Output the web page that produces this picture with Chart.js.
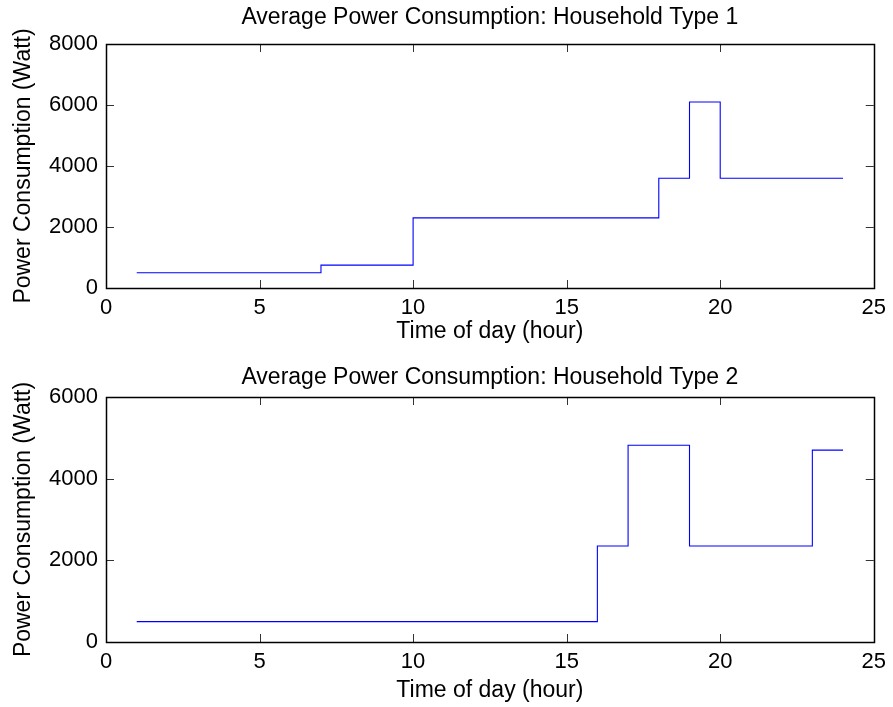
<!DOCTYPE html>
<html>
<head>
<meta charset="utf-8">
<script src="https://cdn.jsdelivr.net/npm/chart.js@4.4.1/dist/chart.umd.min.js"></script>
<style>
  html, body { margin: 0; padding: 0; background: #fff; }
  body { width: 893px; height: 707px; position: relative; overflow: hidden; }
  canvas { position: absolute; left: 0; }
</style>
</head>
<body>
<canvas id="c1" width="893" height="353" style="top:0px;width:893px;height:353px"></canvas>
<canvas id="c2" width="893" height="354" style="top:353px;width:893px;height:354px"></canvas>
<script>
// ---- data ----
const hours = [1,2,3,4,5,6,7,8,9,10,11,12,13,14,15,16,17,18,19,20,21,22,23,24];
const type1Watts = [500,500,500,500,500,500,750,750,750,2300,2300,2300,2300,2300,2300,2300,2300,3600,6100,3600,3600,3600,3600,3600];
const type2Watts = [500,500,500,500,500,500,500,500,500,500,500,500,500,500,500,2350,4820,4820,2350,2350,2350,2350,4700,4700];
const titles = ['Average Power Consumption: Household Type 1', 'Average Power Consumption: Household Type 2'];
const xTitle = 'Time of day (hour)';
const yTitle = 'Power Consumption (Watt)';
const xTicks = [0, 5, 10, 15, 20, 25];
const yTicks1 = [0, 2000, 4000, 6000, 8000];
const yTicks2 = [0, 2000, 4000, 6000];

const FONT = '"Liberation Sans", Arial, Helvetica, sans-serif';
Chart.defaults.color = '#000';
Chart.defaults.font.family = FONT;

// center the title over the plot area (as the reference does)
const titleCenterPlugin = {
  id: 'titleCenter',
  afterLayout(chart) {
    const tb = chart.titleBlock;
    if (tb) {
      tb.left = chart.chartArea.left;
      tb.right = chart.chartArea.right;
      tb.width = tb.right - tb.left;
    }
  }
};

// frame + inward ticks on all four sides, like a boxed axes
const boxPlugin = {
  id: 'boxTicks',
  afterDatasetsDraw(chart) {
    const {ctx, chartArea: a, scales: {x, y}} = chart;
    const L = 8;
    ctx.save();
    ctx.lineWidth = 1;
    ctx.strokeStyle = '#333';
    ctx.beginPath();
    x.ticks.forEach(t => {
      const px = Math.round(x.getPixelForValue(t.value)) + 0.5;
      ctx.moveTo(px, a.bottom); ctx.lineTo(px, a.bottom - L);
      ctx.moveTo(px, a.top); ctx.lineTo(px, a.top + L);
    });
    y.ticks.forEach(t => {
      const py = Math.round(y.getPixelForValue(t.value)) + 0.5;
      ctx.moveTo(a.left, py); ctx.lineTo(a.left + L, py);
      ctx.moveTo(a.right, py); ctx.lineTo(a.right - L, py);
    });
    ctx.stroke();
    ctx.strokeStyle = '#000';
    ctx.lineWidth = 1.5;
    ctx.strokeRect(Math.round(a.left) + 0.5, Math.round(a.top) + 0.5,
                   Math.round(a.right - a.left), Math.round(a.bottom - a.top));
    ctx.restore();
  }
};

function makeChart(id, title, values, yTicks, titleTop, xTitleBottom) {
  const yMax = yTicks[yTicks.length - 1];
  return new Chart(document.getElementById(id), {
    type: 'line',
    data: {
      datasets: [{
        data: hours.map((h, i) => ({x: h, y: values[i]})),
        borderColor: '#0000ff',
        borderWidth: 1.1,
        pointRadius: 0,
        stepped: true,
        fill: false
      }]
    },
    options: {
      responsive: false,
      animation: false,
      devicePixelRatio: 1,
      layout: { padding: { left: 0, right: 18, top: 0, bottom: 0 } },
      plugins: {
        legend: { display: false },
        tooltip: { enabled: false },
        title: {
          display: true,
          text: title,
          color: '#000',
          font: { size: 23, weight: 'normal', family: FONT },
          padding: { top: titleTop, bottom: 44 - titleTop - 27.6 }
        }
      },
      scales: {
        x: {
          type: 'linear',
          min: 0, max: 25,
          afterBuildTicks(s) { s.ticks = xTicks.map(v => ({value: v})); },
          afterFit(s) { s.height = 65; },
          grid: { display: false, drawTicks: false },
          border: { display: false },
          ticks: { font: { size: 22 }, padding: 7, color: '#000', maxRotation: 0,
                   callback: v => String(v) },
          title: { display: true, text: xTitle, font: { size: 23 }, color: '#000',
                   padding: { top: 0, bottom: xTitleBottom } }
        },
        y: {
          type: 'linear',
          min: 0, max: yMax,
          afterBuildTicks(s) { s.ticks = yTicks.map(v => ({value: v})); },
          afterFit(s) { s.width = 106; },
          grid: { display: false, drawTicks: false },
          border: { display: false },
          ticks: { font: { size: 22 }, padding: 8, color: '#000',
                   callback: v => String(v) },
          title: { display: true, text: yTitle, font: { size: 23 }, color: '#000',
                   padding: { top: 10, bottom: 0 } }
        }
      }
    },
    plugins: [titleCenterPlugin, boxPlugin]
  });
}

makeChart('c1', titles[0], type1Watts, yTicks1, 4, 8);
makeChart('c2', titles[1], type2Watts, yTicks2, 11, 3);
</script>
</body>
</html>
